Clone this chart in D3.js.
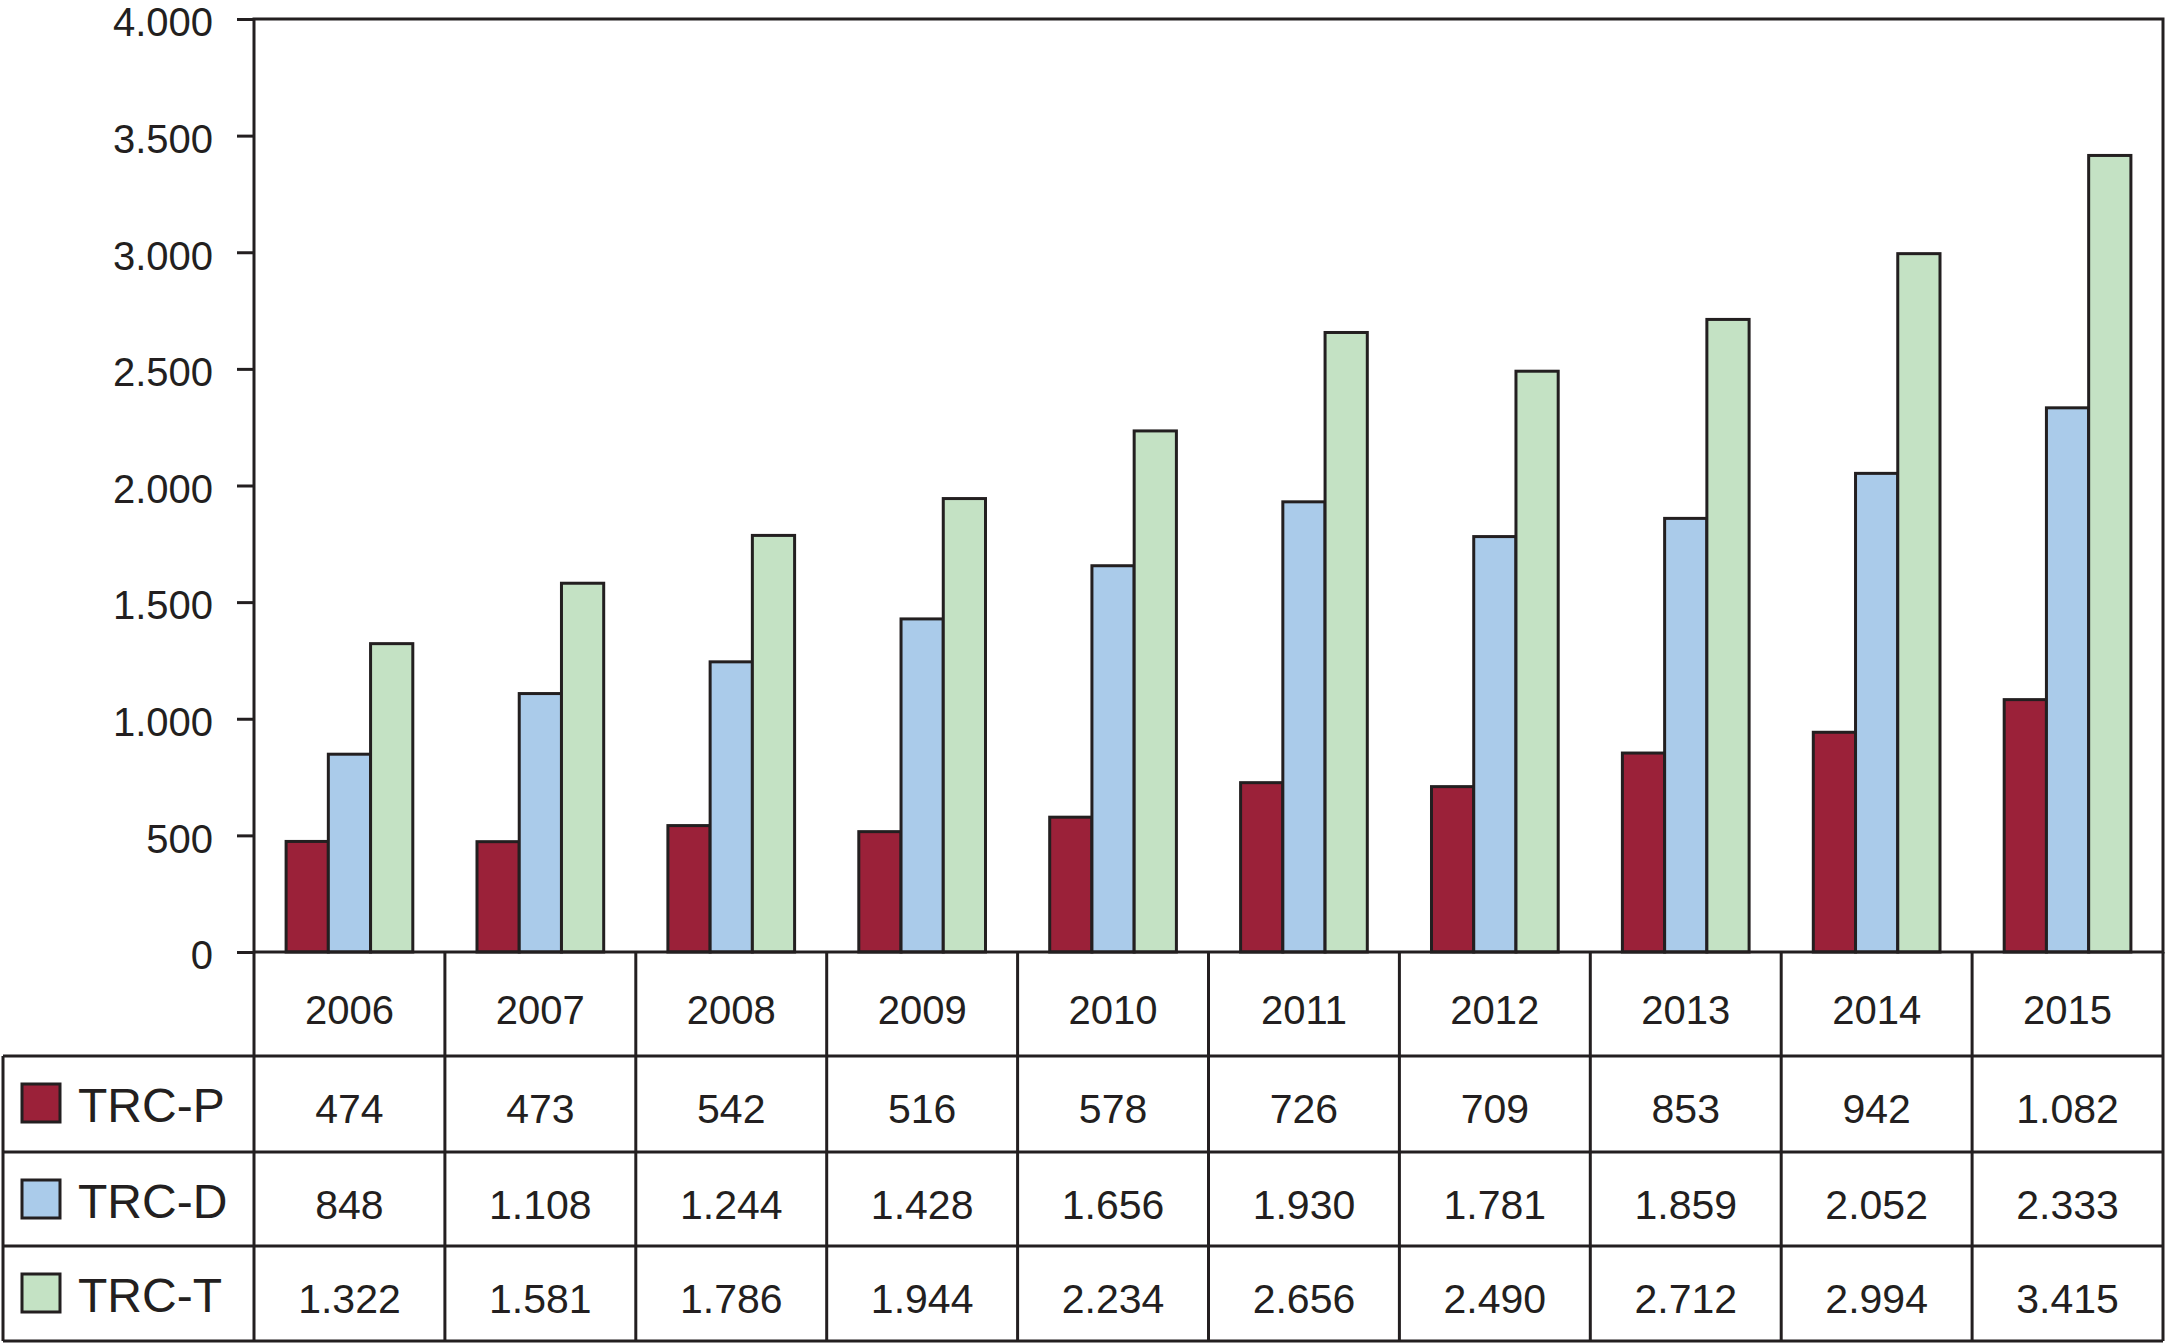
<!DOCTYPE html>
<html>
<head>
<meta charset="utf-8">
<script src="https://cdn.jsdelivr.net/npm/d3@7"></script>
<style>
  body { margin: 0; background: #fff; }
  svg text { font-family: "Liberation Sans", Arial, Helvetica, sans-serif; fill: #231f20; }
</style>
</head>
<body>
<div id="chart"></div>
<script>
// Data
var years = ["2006", "2007", "2008", "2009", "2010", "2011", "2012", "2013", "2014", "2015"];
var seriesNames = ["TRC-P", "TRC-D", "TRC-T"];
var trcP = [474, 473, 542, 516, 578, 726, 709, 853, 942, 1082];
var trcD = [848, 1108, 1244, 1428, 1656, 1930, 1781, 1859, 2052, 2333];
var trcT = [1322, 1581, 1786, 1944, 2234, 2656, 2490, 2712, 2994, 3415];
var yTicks = [0, 500, 1000, 1500, 2000, 2500, 3000, 3500, 4000];

var seriesValues = [trcP, trcD, trcT];
var colors = ["#9b2139", "#aacbea", "#c4e2c4"];

// Layout
var svgWidth = 2167;
var svgHeight = 1343;
var plot = { left: 254, right: 2163, top: 19, bottom: 952 };
var tableLeft = 3;
var rowLines = [952, 1056, 1152, 1246, 1341];
var stroke = "#231f20";

var svg = d3.select("#chart")
    .append("svg")
    .attr("width", svgWidth)
    .attr("height", svgHeight);

// Scales
var xScale = d3.scaleBand()
    .domain(years)
    .range([plot.left, plot.right]);

var xSub = d3.scaleBand()
    .domain(seriesNames)
    .range([0, xScale.bandwidth()])
    .paddingOuter(0.76);

var yScale = d3.scaleLinear()
    .domain([0, 4000])
    .range([plot.bottom, plot.top]);

var locale = d3.formatLocale({ decimal: ",", thousands: ".", grouping: [3], currency: ["", ""] });
var fmt = locale.format(",");

// Bars
var rows = years.map(function(y, i) {
    return seriesNames.map(function(s, j) {
        return { year: y, series: s, value: seriesValues[j][i], color: colors[j] };
    });
});

svg.append("g")
    .selectAll("g")
    .data(rows)
    .enter().append("g")
    .attr("transform", function(d) { return "translate(" + xScale(d[0].year) + ",0)"; })
    .selectAll("rect")
    .data(function(d) { return d; })
    .enter().append("rect")
    .attr("x", function(d) { return xSub(d.series); })
    .attr("y", function(d) { return yScale(d.value); })
    .attr("width", xSub.bandwidth())
    .attr("height", function(d) { return yScale(0) - yScale(d.value); })
    .attr("fill", function(d) { return d.color; })
    .attr("stroke", stroke)
    .attr("stroke-width", 3);

// Plot frame
svg.append("rect")
    .attr("x", plot.left)
    .attr("y", plot.top)
    .attr("width", plot.right - plot.left)
    .attr("height", plot.bottom - plot.top)
    .attr("fill", "none")
    .attr("stroke", stroke)
    .attr("stroke-width", 3);

// Y axis
var leftAxis = d3.axisLeft(yScale)
    .tickValues(yTicks)
    .tickSize(17)
    .tickPadding(24)
    .tickFormat(fmt);

var yAxisG = svg.append("g")
    .attr("transform", "translate(" + plot.left + ",0)")
    .call(leftAxis);

yAxisG.select(".domain").remove();
yAxisG.selectAll(".tick line").attr("stroke", stroke).attr("stroke-width", 3);
yAxisG.selectAll(".tick text")
    .attr("font-size", "40px")
    .attr("font-family", "\"Liberation Sans\", Arial, Helvetica, sans-serif")
    .attr("fill", "#231f20")
    .attr("dy", "0.42em");

// Data table
var table = svg.append("g");

// horizontal lines
table.selectAll("line.h")
    .data(rowLines.slice(1))
    .enter().append("line")
    .attr("x1", tableLeft)
    .attr("x2", plot.right)
    .attr("y1", function(d) { return d; })
    .attr("y2", function(d) { return d; })
    .attr("stroke", stroke)
    .attr("stroke-width", 3);

// vertical column lines
var colEdges = years.map(function(y) { return xScale(y); }).concat([plot.right]);
table.selectAll("line.v")
    .data(colEdges)
    .enter().append("line")
    .attr("x1", function(d) { return d; })
    .attr("x2", function(d) { return d; })
    .attr("y1", rowLines[0])
    .attr("y2", rowLines[4])
    .attr("stroke", stroke)
    .attr("stroke-width", 3);

table.append("line")
    .attr("x1", tableLeft).attr("x2", tableLeft)
    .attr("y1", rowLines[1]).attr("y2", rowLines[4])
    .attr("stroke", stroke)
    .attr("stroke-width", 3);

// year labels
table.selectAll("text.year")
    .data(years)
    .enter().append("text")
    .attr("x", function(d) { return xScale(d) + xScale.bandwidth() / 2; })
    .attr("y", rowLines[0] + 72)
    .attr("text-anchor", "middle")
    .attr("font-size", "40px")
    .text(function(d) { return d; });

// series rows
seriesNames.forEach(function(name, j) {
    var top = rowLines[j + 1];

    table.append("rect")
        .attr("x", 22)
        .attr("y", top + 28)
        .attr("width", 38)
        .attr("height", 38)
        .attr("fill", colors[j])
        .attr("stroke", stroke)
        .attr("stroke-width", 3);

    table.append("text")
        .attr("x", 78)
        .attr("y", top + 66)
        .attr("font-size", "48px")
        .text(name);

    table.selectAll(null)
        .data(seriesValues[j])
        .enter().append("text")
        .attr("x", function(d, i) { return xScale(years[i]) + xScale.bandwidth() / 2; })
        .attr("y", top + 67)
        .attr("text-anchor", "middle")
        .attr("font-size", "41px")
        .text(function(d) { return fmt(d); });
});
</script>
</body>
</html>
